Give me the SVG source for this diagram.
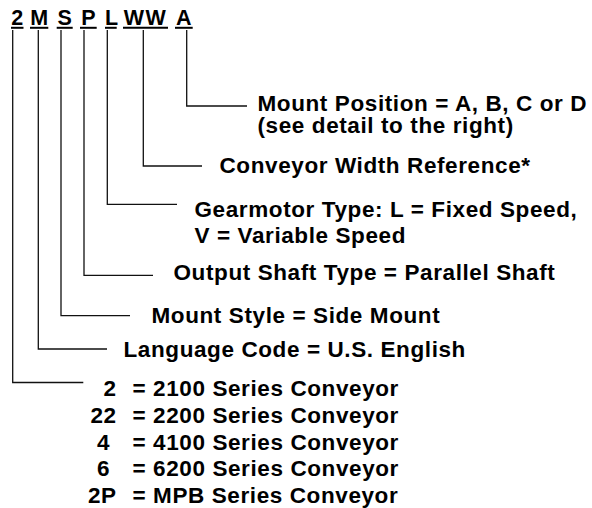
<svg xmlns="http://www.w3.org/2000/svg" width="592" height="508" viewBox="0 0 592 508">
<style>
text{font-family:"Liberation Sans",Arial,sans-serif;font-weight:bold;fill:#000}
.t{font-size:22.5px;letter-spacing:0.6px}
.h{font-size:21.5px;text-anchor:middle}
.c{fill:none;stroke:#111;stroke-width:1.3}
.u{stroke:#000;stroke-width:2}
</style>
<rect width="592" height="508" fill="#fff"/>
<g id="code">
<text class="h" x="17.2" y="25">2</text>
<text class="h" x="39.2" y="25">M</text>
<text class="h" x="64.7" y="25">S</text>
<text class="h" x="88.4" y="25">P</text>
<text class="h" x="111.5" y="25">L</text>
<text class="h" x="145.5" y="25" letter-spacing="1.5">WW</text>
<text class="h" x="183.8" y="25">A</text>
<line class="u" x1="11" y1="27.8" x2="23.5" y2="27.8"/>
<line class="u" x1="30" y1="27.8" x2="48.3" y2="27.8"/>
<line class="u" x1="56.7" y1="27.8" x2="72.7" y2="27.8"/>
<line class="u" x1="80" y1="27.8" x2="96.7" y2="27.8"/>
<line class="u" x1="105" y1="27.8" x2="116.7" y2="27.8"/>
<line class="u" x1="123" y1="27.8" x2="168" y2="27.8"/>
<line class="u" x1="175" y1="27.8" x2="192.7" y2="27.8"/>
</g>
<g id="connectors">
<polyline class="c" points="186.7,30 186.7,106 247,106"/>
<polyline class="c" points="143.3,30 143.3,166 202,166"/>
<polyline class="c" points="107.3,30 107.3,204.3 177,204.3"/>
<polyline class="c" points="84,30 84,275.3 153,275.3"/>
<polyline class="c" points="61,30 61,315.7 130,315.7"/>
<polyline class="c" points="38.3,30 38.3,349 107,349"/>
<polyline class="c" points="12.7,30 12.7,382.5 83.3,382.5"/>
</g>
<g id="mount-position">
<text class="t" x="257.5" y="110.5">Mount Position = A, B, C or D</text>
<text class="t" x="257.5" y="133">(see detail to the right)</text>
</g>
<g id="width">
<text class="t" x="219.5" y="173">Conveyor Width Reference*</text>
</g>
<g id="gearmotor">
<text class="t" x="194.5" y="216.5">Gearmotor Type: L = Fixed Speed,</text>
<text class="t" x="194.5" y="243">V = Variable Speed</text>
</g>
<g id="shaft">
<text class="t" x="173.5" y="279.5">Output Shaft Type = Parallel Shaft</text>
</g>
<g id="style">
<text class="t" x="151.5" y="322.5">Mount Style = Side Mount</text>
</g>
<g id="language">
<text class="t" x="123.5" y="357">Language Code = U.S. English</text>
</g>
<g id="series">
<text class="t" x="116.7" y="396" text-anchor="end" letter-spacing="0">2</text>
<text class="t" x="132.5" y="396">= 2100 Series Conveyor</text>
<text class="t" x="116.7" y="422.7" text-anchor="end" letter-spacing="0">22</text>
<text class="t" x="132.5" y="422.7">= 2200 Series Conveyor</text>
<text class="t" x="97" y="449.5" letter-spacing="0">4</text>
<text class="t" x="132.5" y="449.5">= 4100 Series Conveyor</text>
<text class="t" x="97" y="476" letter-spacing="0">6</text>
<text class="t" x="132.5" y="476">= 6200 Series Conveyor</text>
<text class="t" x="116.7" y="503" text-anchor="end" letter-spacing="0">2P</text>
<text class="t" x="132.5" y="503">= MPB Series Conveyor</text>
</g>
</svg>
